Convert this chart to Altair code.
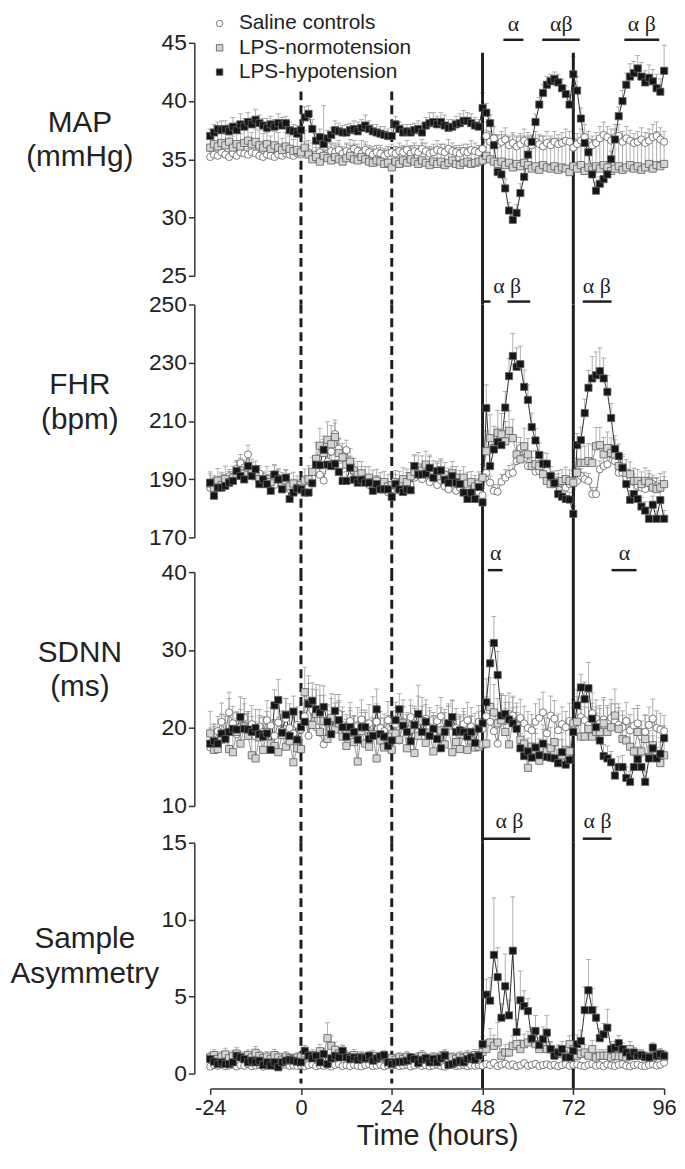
import altair as alt
import pandas as pd

HOURS = list(range(-24, 97))
SERIES = ["Saline controls", "LPS-normotension", "LPS-hypotension"]
X_TICKS = [-24, 0, 24, 48, 72, 96]
RULE_DASHED = [0, 24]
RULE_SOLID = [48, 72]

# ---------------- MAP (mmHg) ----------------
MAP_SALINE = ([35.2, 35.4, 35.3, 35.6, 35.4, 35.2, 35.5, 35.3, 35.6, 35.5, 35.4, 35.6, 35.5, 35.3, 35.2, 35.4, 35.3, 35.2, 35.4, 35.3, 35.5, 35.4, 35.3, 35.5]
              + [35.4, 35.8, 35.6, 35.2, 35.4, 35.6, 35.3, 35.5, 35.7, 35.6, 35.8, 35.5, 35.7, 35.6, 35.9, 35.7, 35.5, 35.8, 35.6, 35.4, 35.6, 35.5, 35.3, 35.5, 35.6]
              + [35.5, 35.7, 35.6, 35.8, 35.5, 35.7, 35.6, 35.9, 35.7, 35.5, 35.6, 35.8, 35.7, 35.6, 35.9, 35.7, 35.6, 35.5, 35.7, 35.6, 35.8, 35.7, 35.6]
              + [35.9, 37.0, 36.5, 36.8, 36.3, 36.5, 36.7, 36.2, 36.4, 36.1, 36.3, 36.6, 36.4, 36.2, 36.5, 36.3, 36.1, 36.4, 36.2, 36.5, 36.3, 36.4, 36.6, 36.5]
              + [36.0, 36.3, 36.6, 36.9, 36.5, 36.2, 36.4, 36.8, 37.1, 36.9, 36.6, 36.9, 37.0, 36.5, 36.8, 36.6, 36.4, 36.5, 36.7, 36.4, 36.6, 36.9, 37.0, 36.7, 36.5])
MAP_SALINE_ERR = ([0.5, 0.6, 0.5, 0.7, 0.6, 0.5, 0.6, 0.5, 0.7, 0.6, 0.5, 0.6, 0.7, 0.5, 0.6, 0.5, 0.6, 0.7, 0.5, 0.6, 0.5, 0.6, 0.5, 0.6]
                  + [0.6, 0.7, 0.6, 0.5, 0.6, 0.7, 0.5, 0.6, 0.7, 0.6, 0.8, 0.6, 0.7, 0.6, 0.7, 0.6, 0.5, 0.7, 0.6, 0.5, 0.6, 0.7, 0.5, 0.6, 0.7]
                  + [0.6, 0.7, 0.6, 0.8, 0.6, 0.7, 0.6, 0.8, 0.7, 0.6, 0.7, 0.8, 0.6, 0.7, 0.8, 0.7, 0.6, 0.7, 0.6, 0.7, 0.8, 0.7, 0.6]
                  + [0.8, 1.2, 0.9, 1.0, 0.8, 0.9, 1.0, 0.8, 0.9, 0.8, 0.9, 1.0, 0.9, 0.8, 0.9, 0.8, 0.9, 1.0, 0.8, 0.9, 0.8, 0.9, 1.0, 0.9]
                  + [0.8, 0.9, 1.0, 1.1, 0.9, 0.8, 0.9, 1.0, 1.1, 0.9, 1.0, 1.1, 1.0, 0.9, 1.0, 0.9, 0.8, 0.9, 1.0, 0.9, 1.0, 1.1, 1.2, 1.0, 0.9])
MAP_NORMO = ([36.0, 36.3, 36.1, 36.4, 36.2, 36.5, 36.0, 36.3, 36.1, 36.4, 36.6, 36.3, 36.5, 36.2, 36.0, 36.3, 35.9, 36.2, 36.0, 35.8, 36.1, 35.9, 35.7, 35.8]
             + [35.6, 36.0, 35.4, 35.0, 35.2, 34.8, 35.3, 35.1, 34.9, 35.2, 35.0, 34.8, 35.1, 35.3, 35.0, 34.9, 35.2, 35.0, 34.8, 34.7, 34.9, 34.8, 34.6, 34.7, 34.3]
             + [34.8, 34.6, 34.9, 34.7, 35.0, 34.8, 34.6, 34.9, 34.7, 34.5, 34.8, 34.6, 34.8, 34.5, 34.7, 34.9, 34.6, 34.5, 34.7, 34.8, 34.6, 34.7, 34.8]
             + [34.9, 35.3, 35.0, 34.8, 34.6, 34.8, 34.5, 34.7, 34.3, 34.6, 34.4, 34.7, 34.5, 34.2, 34.4, 34.1, 34.5, 34.3, 34.2, 34.4, 34.1, 34.3, 34.2, 33.9]
             + [34.4, 34.2, 34.5, 34.0, 34.3, 34.1, 34.4, 34.2, 34.5, 34.3, 34.0, 34.2, 34.4, 34.1, 34.3, 34.5, 34.2, 34.4, 34.1, 34.3, 34.6, 34.2, 34.5, 34.4, 34.6])
MAP_NORMO_ERR = ([1.2, 1.0, 1.3, 1.1, 1.2, 1.4, 1.0, 1.2, 1.1, 1.3, 1.2, 1.0, 1.1, 1.3, 1.2, 1.0, 1.1, 1.2, 1.3, 1.0, 1.2, 1.1, 1.0, 1.2]
                 + [1.3, 1.5, 1.2, 1.4, 1.3, 1.2, 4.3, 1.3, 1.4, 1.2, 1.3, 1.1, 1.2, 1.4, 1.3, 1.2, 1.4, 1.3, 1.2, 1.4, 1.3, 1.2, 1.3, 1.4, 1.3]
                 + [1.3, 1.4, 1.2, 1.3, 1.2, 1.4, 1.3, 1.5, 1.3, 1.4, 1.2, 1.3, 1.5, 1.4, 1.3, 1.2, 1.4, 1.5, 1.3, 1.2, 1.4, 1.3, 1.4]
                 + [2.0, 2.2, 2.4, 2.1, 2.5, 2.3, 2.6, 2.2, 2.8, 2.4, 2.6, 2.3, 2.5, 2.7, 2.4, 2.9, 2.5, 2.3, 2.6, 2.4, 2.7, 2.5, 2.4, 2.6]
                 + [2.3, 2.5, 2.2, 2.8, 2.4, 2.6, 2.3, 2.5, 2.2, 2.6, 2.9, 2.5, 2.4, 2.8, 2.5, 2.3, 2.6, 2.4, 2.7, 2.5, 2.6, 2.8, 2.9, 2.7, 2.2])
MAP_HYPO = ([37.0, 37.3, 37.6, 37.5, 37.6, 37.4, 37.8, 37.5, 38.0, 37.8, 38.2, 38.0, 38.4, 38.1, 37.9, 37.7, 38.0, 37.8, 38.1, 37.9, 38.1, 37.5, 37.4, 37.2]
            + [37.5, 38.6, 38.9, 37.6, 36.6, 36.9, 36.3, 36.8, 37.1, 37.5, 37.4, 37.3, 37.3, 37.5, 37.6, 37.4, 37.7, 37.9, 37.6, 37.4, 37.3, 37.2, 37.1, 37.0, 37.0]
            + [38.0, 37.6, 37.3, 37.4, 37.3, 37.5, 37.6, 37.3, 37.9, 38.1, 38.2, 38.0, 38.2, 37.9, 37.7, 37.8, 38.0, 38.1, 38.3, 38.3, 38.1, 37.9, 37.8]
            + [39.4, 39.0, 38.1, 36.2, 33.9, 33.7, 32.5, 30.6, 29.8, 30.4, 32.1, 33.5, 35.4, 36.5, 38.2, 39.7, 40.7, 41.4, 41.7, 41.9, 41.6, 41.1, 40.6, 39.7]
            + [42.3, 40.9, 38.5, 36.4, 35.6, 33.7, 32.3, 32.9, 33.3, 33.7, 35.0, 36.7, 38.7, 40.0, 41.4, 42.1, 42.4, 42.8, 42.1, 41.6, 42.0, 41.7, 41.1, 40.8, 42.6])
MAP_HYPO_ERR = ([0.6, 0.7, 0.6, 0.8, 0.7, 0.6, 0.8, 0.7, 0.9, 0.7, 0.8, 0.6, 0.9, 0.7, 0.6, 0.8, 0.7, 0.6, 0.8, 0.7, 0.6, 0.7, 0.6, 0.7]
                + [0.8, 0.9, 0.7, 0.8, 0.6, 0.7, 0.6, 0.7, 0.6, 0.8, 0.7, 0.6, 0.7, 0.6, 0.7, 0.8, 0.7, 0.9, 0.7, 0.6, 0.7, 0.6, 0.7, 0.6, 0.7]
                + [0.7, 0.6, 0.7, 0.6, 0.7, 0.6, 0.7, 0.8, 0.7, 0.9, 0.8, 0.7, 0.8, 0.9, 0.7, 0.6, 0.7, 0.8, 0.9, 0.7, 0.8, 0.7, 0.6]
                + [1.3, 0.8, 0.7, 0.9, 0.8, 0.7, 0.8, 0.7, 0.6, 0.7, 0.8, 0.7, 0.7, 0.6, 0.7, 0.6, 0.7, 0.7, 0.6, 0.6, 0.7, 0.8, 0.7, 0.8]
                + [1.5, 1.2, 0.9, 0.8, 0.7, 0.8, 0.7, 0.6, 0.7, 0.8, 0.7, 0.9, 0.8, 0.9, 1.0, 1.1, 1.0, 1.1, 1.2, 1.0, 1.1, 1.0, 1.2, 1.1, 2.2])

# ---------------- FHR (bpm) ----------------
FHR_SALINE = ([187.0, 189.0, 188.0, 190.0, 189.0, 191.0, 190.0, 193.5, 195.5, 194.0, 198.5, 193.0, 191.0, 192.0, 190.0, 188.5, 189.5, 188.0, 190.5, 187.5, 188.5, 186.5, 187.5, 186.0]
              + [187.5, 188.5, 187.0, 190.5, 193.0, 191.5, 189.5, 196.0, 199.5, 205.5, 200.5, 197.0, 200.0, 195.0, 192.5, 190.5, 191.5, 189.0, 188.0, 187.0, 188.5, 186.5, 187.5, 185.5, 186.5]
              + [187.5, 186.0, 188.0, 189.5, 188.0, 190.5, 192.0, 190.0, 191.5, 189.0, 190.5, 188.0, 189.5, 187.5, 186.5, 188.5, 186.0, 187.0, 185.5, 186.5, 185.0, 186.0, 185.5, 184.5]
              + [192.2, 188.8, 186.0, 185.7, 189.1, 190.5, 191.8, 192.2, 196.2, 200.7, 197.3, 194.5, 194.5, 192.6, 192.8, 192.8, 192.8, 190.0, 188.5, 189.4, 188.3, 187.1, 188.3, 189.4]
              + [189.4, 191.1, 190.0, 189.4, 184.9, 184.9, 193.4, 194.5, 195.1, 198.5, 196.2, 192.2, 192.2, 190.5, 189.4, 189.4, 187.7, 187.1, 186.6, 189.4, 188.3, 187.7, 187.1, 188.3])
FHR_SALINE_ERR = ([2.5, 2.2, 2.8, 2.4, 2.6, 2.3, 2.7, 2.9, 3.0, 2.6, 3.2, 2.8, 2.5, 2.7, 2.4, 2.6, 2.3, 2.5, 2.7, 2.4, 2.6, 2.2, 2.5, 2.3]
                  + [2.4, 2.6, 2.3, 2.8, 3.0, 2.7, 2.5, 3.2, 3.5, 3.8, 3.3, 3.0, 3.4, 2.9, 2.7, 2.5, 2.8, 2.4, 2.6, 2.3, 2.5, 2.2, 2.4, 2.3, 2.5]
                  + [2.4, 2.2, 2.6, 2.8, 2.5, 2.9, 3.1, 2.7, 2.9, 2.6, 2.8, 2.5, 2.7, 2.4, 2.3, 2.6, 2.2, 2.4, 2.1, 2.3, 2.0, 2.2, 2.1, 2.3]
                  + [2.5, 2.3, 2.2, 2.4, 2.6, 2.8, 2.9, 3.0, 3.4, 3.6, 3.2, 3.0, 2.9, 2.7, 2.8, 2.6, 2.5, 2.4, 2.3, 2.4, 2.2, 2.3, 2.4, 2.5]
                  + [2.6, 2.5, 2.4, 2.6, 2.2, 2.3, 2.9, 3.1, 3.3, 3.5, 3.2, 2.9, 2.8, 2.6, 2.5, 2.4, 2.3, 2.2, 2.4, 2.6, 2.3, 2.5, 2.4, 2.6])
FHR_NORMO = ([188.5, 187.0, 189.5, 188.0, 190.0, 189.0, 190.5, 191.5, 193.0, 192.0, 194.0, 192.5, 191.0, 190.0, 188.5, 190.0, 189.0, 191.0, 190.0, 188.0, 189.5, 187.5, 188.5, 187.0]
             + [188.0, 189.5, 190.0, 192.5, 197.0, 201.5, 199.0, 203.5, 202.0, 204.5, 199.0, 197.5, 195.0, 196.0, 193.0, 191.5, 192.0, 190.0, 190.5, 189.0, 189.5, 188.0, 189.0, 187.5, 188.0]
             + [189.0, 188.5, 190.0, 189.0, 191.0, 192.5, 194.0, 193.0, 195.0, 193.5, 192.0, 191.0, 193.0, 191.5, 190.0, 192.0, 190.5, 189.0, 190.5, 188.5, 189.0, 187.5, 188.5, 190.5]
             + [199.6, 204.1, 200.7, 205.9, 205.4, 203.0, 206.6, 204.1, 198.5, 196.8, 201.3, 198.5, 194.5, 195.1, 194.5, 191.7, 189.4, 188.3, 188.8, 188.8, 189.4, 190.0, 189.4, 188.8]
             + [192.2, 195.6, 195.6, 196.2, 195.6, 201.3, 201.7, 198.5, 200.7, 199.0, 198.5, 194.5, 194.0, 192.2, 191.7, 189.4, 189.4, 188.3, 189.4, 188.8, 187.1, 186.6, 187.1, 188.3])
FHR_NORMO_ERR = ([4.0, 3.5, 4.2, 3.8, 4.5, 3.6, 4.0, 4.8, 4.2, 3.9, 5.0, 4.4, 3.8, 4.1, 3.5, 4.3, 3.7, 4.0, 3.6, 4.2, 3.8, 4.5, 3.9, 4.1]
                 + [4.2, 4.0, 4.6, 5.0, 5.5, 6.0, 5.8, 6.2, 6.5, 5.8, 5.2, 4.8, 5.0, 4.5, 4.2, 4.6, 4.0, 4.3, 3.8, 4.1, 3.9, 4.2, 3.7, 4.0, 3.8]
                 + [4.0, 4.2, 3.9, 4.5, 4.8, 5.5, 5.2, 5.0, 4.6, 4.8, 4.3, 4.5, 4.0, 4.2, 3.8, 4.1, 3.9, 4.0, 3.7, 3.9, 3.6, 3.8, 4.0, 4.5]
                 + [7.0, 8.0, 7.5, 7.8, 7.2, 6.8, 7.0, 6.5, 6.0, 5.8, 6.2, 5.5, 5.0, 4.8, 4.5, 4.6, 4.2, 4.4, 4.0, 4.2, 3.9, 4.1, 3.8, 4.0]
                 + [5.0, 5.5, 5.8, 6.0, 6.2, 6.5, 6.0, 5.8, 5.5, 5.2, 5.0, 4.8, 4.5, 4.6, 4.2, 4.4, 4.0, 4.2, 4.5, 4.1, 4.3, 4.0, 4.8, 4.2])
FHR_HYPO = ([188.8, 184.3, 187.1, 187.1, 187.7, 188.8, 189.4, 192.8, 191.1, 189.9, 194.5, 191.1, 193.4, 188.3, 189.9, 188.3, 186.0, 191.6, 189.9, 186.5, 190.5, 183.2, 185.4, 186.8]
            + [186.5, 185.4, 185.4, 188.6, 195.0, 194.8, 200.1, 195.0, 194.5, 195.3, 192.5, 189.4, 189.4, 193.9, 189.8, 188.8, 189.8, 188.8, 188.8, 186.0, 188.3, 186.5, 186.5, 186.5, 183.9]
            + [188.3, 186.5, 185.6, 186.5, 186.2, 194.5, 191.6, 191.6, 191.9, 193.9, 190.5, 192.8, 193.0, 189.8, 188.8, 191.1, 188.8, 188.3, 185.4, 183.2, 185.4, 183.2, 187.3, 182.0]
            + [214.4, 194.5, 200.2, 202.8, 201.7, 214.6, 225.4, 232.3, 228.6, 229.5, 221.7, 217.2, 207.9, 203.3, 198.3, 195.3, 195.3, 191.1, 188.6, 184.9, 184.0, 183.2, 183.0, 178.1]
            + [201.7, 203.4, 212.7, 221.4, 224.6, 225.7, 227.1, 224.6, 220.0, 211.0, 200.4, 197.9, 193.9, 188.3, 182.9, 184.9, 183.2, 180.6, 179.2, 176.4, 181.2, 176.4, 182.8, 176.4])
FHR_HYPO_ERR = ([3.0, 2.5, 3.5, 2.8, 3.2, 2.6, 3.0, 2.9, 3.4, 2.7, 3.8, 3.1, 2.8, 3.0, 2.6, 3.3, 2.5, 3.0, 2.8, 3.2, 2.6, 3.0, 2.7, 2.9]
                + [3.1, 2.8, 3.0, 3.4, 3.2, 3.6, 3.5, 3.3, 3.8, 3.1, 2.9, 3.0, 3.2, 2.8, 3.0, 2.7, 3.1, 2.9, 2.6, 2.8, 3.0, 2.7, 2.9, 2.6, 3.0]
                + [3.2, 2.8, 3.0, 2.7, 3.1, 3.9, 3.4, 3.2, 3.6, 3.8, 3.1, 3.3, 3.5, 3.0, 2.8, 3.2, 2.9, 3.0, 2.7, 2.6, 2.8, 2.5, 2.9, 2.6]
                + [8.0, 4.5, 5.0, 4.8, 4.5, 5.5, 6.0, 7.8, 6.5, 6.2, 5.8, 5.2, 4.8, 4.0, 4.2, 3.8, 3.5, 3.2, 3.0, 2.8, 2.6, 2.5, 2.4, 2.6]
                + [4.0, 4.5, 4.8, 6.0, 7.5, 8.0, 8.0, 7.0, 5.5, 5.0, 4.5, 4.2, 3.8, 3.5, 3.2, 3.0, 2.8, 3.2, 3.0, 2.8, 3.0, 2.7, 3.1, 2.8])

# ---------------- SDNN (ms) ----------------
SDNN_SALINE = ([17.5, 18.2, 19.6, 20.8, 19.4, 22.0, 20.6, 19.2, 20.1, 21.3, 19.8, 20.5, 18.9, 20.2, 19.5, 21.0, 20.3, 19.0, 20.7, 19.6, 21.2, 20.0, 19.3, 20.4]
               + [19.8, 21.5, 19.0, 22.3, 20.1, 19.4, 17.9, 20.6, 21.2, 20.0, 21.8, 20.4, 19.7, 20.9, 19.5, 20.3, 21.1, 19.8, 20.6, 19.2, 20.8, 20.0, 19.6, 21.0]
               + [19.3, 20.5, 18.4, 20.8, 19.7, 21.4, 20.2, 19.5, 20.7, 21.2, 20.1, 19.4, 20.9, 21.5, 19.8, 20.6, 21.3, 20.0, 19.2, 20.5, 21.0, 20.2, 19.7, 20.8, 19.9]
               + [21.5, 20.8, 19.6, 18.0, 21.6, 20.9, 21.8, 21.6, 20.4, 21.3, 20.6, 20.0, 19.7, 20.8, 21.3, 22.0, 19.3, 21.6, 21.2, 19.7, 20.5, 20.1, 20.9, 20.4]
               + [20.8, 21.4, 21.0, 20.4, 21.9, 21.2, 20.6, 21.1, 20.7, 21.3, 20.8, 20.4, 20.1, 20.9, 19.7, 20.3, 20.6, 18.9, 19.5, 20.4, 21.2, 20.0, 19.8, 19.6])
SDNN_SALINE_ERR = ([2.0, 2.3, 1.9, 2.4, 2.1, 2.6, 2.2, 2.0, 2.3, 2.5, 2.1, 2.4, 1.9, 2.2, 2.0, 2.5, 2.3, 2.1, 2.4, 2.0, 2.6, 2.2, 2.1, 2.3]
                   + [2.2, 2.5, 2.0, 2.7, 2.3, 2.1, 1.9, 2.4, 2.6, 2.2, 2.5, 2.3, 2.0, 2.4, 2.1, 2.3, 2.5, 2.2, 2.4, 2.0, 2.3, 2.1, 2.2, 2.4, 2.3]
                   + [2.1, 2.4, 2.0, 2.3, 2.2, 2.6, 2.3, 2.1, 2.4, 2.5, 2.2, 2.0, 2.4, 2.6, 2.2, 2.3, 2.5, 2.1, 2.0, 2.3, 2.4, 2.2, 2.1, 2.3]
                   + [2.5, 2.4, 2.2, 2.0, 2.6, 2.4, 2.7, 2.5, 2.3, 2.4, 2.2, 2.1, 2.0, 2.3, 2.4, 2.6, 2.0, 2.5, 2.3, 2.1, 2.2, 2.0, 2.3, 2.2]
                   + [2.3, 2.5, 2.4, 2.2, 2.6, 2.4, 2.3, 2.5, 2.2, 2.4, 2.3, 2.2, 2.1, 2.4, 2.0, 2.2, 2.3, 2.0, 2.1, 2.3, 2.5, 2.2, 2.1, 2.0])
SDNN_NORMO = ([19.3, 17.2, 17.3, 18.5, 19.0, 17.3, 16.9, 19.5, 18.0, 20.2, 19.0, 16.5, 16.1, 18.8, 17.2, 19.5, 18.0, 17.7, 16.9, 19.1, 17.6, 18.3, 15.6, 17.4]
              + [17.3, 24.6, 23.2, 20.4, 21.8, 19.5, 20.9, 18.6, 21.3, 19.8, 20.6, 18.9, 17.7, 19.4, 18.2, 15.7, 19.6, 18.0, 17.6, 19.2, 16.1, 18.4, 17.5, 18.9]
              + [17.2, 19.3, 18.5, 20.6, 17.4, 19.8, 16.8, 19.0, 20.9, 18.1, 19.4, 17.0, 18.6, 19.7, 17.9, 20.3, 16.9, 18.2, 17.3, 19.1, 17.2, 18.4, 17.5, 17.6, 17.9]
              + [18.0, 22.7, 22.0, 20.6, 21.0, 19.5, 17.9, 20.8, 20.3, 18.5, 18.0, 14.9, 17.6, 17.2, 15.8, 17.4, 17.0, 17.4, 18.2, 15.5, 16.5, 17.2, 17.0]
              + [20.6, 20.8, 18.9, 18.9, 19.9, 18.9, 19.5, 19.5, 20.6, 19.5, 20.1, 21.6, 19.9, 18.6, 18.4, 17.6, 17.0, 19.5, 17.0, 18.6, 16.3, 17.8, 16.5, 15.5, 16.5])
SDNN_NORMO_ERR = ([2.8, 3.0, 2.5, 3.2, 2.7, 6.5, 3.0, 2.6, 3.4, 2.9, 3.1, 2.7, 3.0, 2.8, 3.3, 2.6, 3.0, 2.9, 4.5, 3.1, 2.7, 4.8, 3.0, 2.8]
                  + [3.0, 3.2, 3.5, 3.0, 3.8, 6.0, 3.3, 3.6, 3.1, 3.4, 2.9, 3.2, 3.0, 2.8, 3.3, 3.0, 2.7, 3.1, 2.9, 4.8, 3.2, 2.8, 3.0, 2.7, 3.1]
                  + [2.9, 3.2, 3.0, 2.8, 3.1, 2.9, 6.5, 3.0, 3.2, 2.8, 4.5, 3.0, 2.9, 3.1, 2.8, 3.0, 2.9, 4.2, 3.0, 2.8, 3.1, 2.9, 3.0, 3.2]
                  + [3.5, 3.8, 3.6, 3.2, 3.4, 3.0, 3.2, 3.1, 2.9, 3.0, 2.8, 3.0, 2.9, 2.7, 2.8, 3.0, 2.9, 2.7, 2.8, 3.0, 2.9, 2.7, 2.8, 3.0]
                  + [3.2, 3.5, 3.8, 3.6, 3.4, 3.2, 3.0, 3.3, 3.1, 3.0, 3.4, 3.2, 3.0, 2.9, 3.1, 2.8, 3.0, 2.9, 3.1, 3.4, 3.0, 3.2, 3.3, 3.0])
SDNN_HYPO = ([18.0, 18.3, 18.0, 19.3, 18.6, 19.5, 19.9, 19.8, 21.4, 19.9, 19.8, 19.5, 20.0, 19.2, 18.9, 19.3, 17.2, 22.9, 23.6, 19.4, 21.7, 19.0, 22.1, 18.5]
             + [20.1, 20.8, 23.1, 23.5, 22.4, 22.0, 22.7, 20.8, 19.2, 22.2, 21.0, 20.1, 18.9, 20.1, 19.5, 18.5, 20.1, 20.1, 18.6, 19.0, 22.4, 19.2, 18.9, 17.7]
             + [18.4, 21.0, 22.4, 20.3, 19.5, 18.3, 20.4, 21.8, 19.5, 20.8, 19.0, 19.9, 18.6, 17.4, 19.5, 20.6, 21.4, 19.5, 19.7, 19.5, 18.9, 19.5, 18.1, 19.9, 20.6]
             + [23.3, 28.3, 30.9, 26.8, 21.6, 21.8, 21.1, 20.6, 19.9, 17.4, 16.4, 17.0, 16.2, 17.5, 16.5, 18.0, 16.3, 16.2, 16.1, 15.5, 16.9, 15.3, 15.9, 19.5]
             + [22.9, 25.2, 23.7, 25.1, 21.2, 20.1, 18.4, 16.4, 16.1, 15.6, 13.9, 15.0, 15.0, 13.6, 13.1, 15.0, 16.0, 15.0, 13.1, 16.1, 17.4, 16.1, 16.7, 18.7])
SDNN_HYPO_ERR = ([2.0, 2.2, 1.8, 2.5, 2.1, 2.4, 2.0, 2.2, 2.6, 1.9, 2.3, 2.0, 2.4, 2.1, 2.5, 1.8, 2.2, 2.0, 2.6, 2.3, 2.1, 2.4, 2.0, 2.2]
                 + [2.1, 2.4, 2.6, 2.3, 2.5, 2.2, 2.7, 2.0, 2.4, 2.1, 2.3, 2.0, 2.2, 2.5, 2.1, 2.3, 1.9, 2.2, 2.0, 2.4, 2.6, 2.1, 2.3, 2.0, 2.2]
                 + [2.3, 2.0, 2.4, 2.2, 2.5, 2.1, 2.3, 2.0, 2.2, 2.4, 2.1, 2.3, 2.0, 2.5, 2.2, 2.1, 2.3, 2.0, 2.2, 2.4, 2.1, 2.0, 2.2, 2.3]
                 + [3.0, 2.8, 3.4, 3.0, 2.6, 2.4, 2.2, 2.0, 2.1, 1.9, 1.8, 1.7, 1.9, 1.8, 1.6, 1.8, 1.7, 1.6, 1.5, 1.7, 1.6, 1.5, 1.6, 1.8]
                 + [2.0, 1.7, 2.2, 3.3, 2.0, 1.8, 1.6, 1.5, 1.6, 1.4, 1.5, 1.3, 1.5, 1.4, 1.3, 1.5, 1.6, 1.4, 1.3, 1.5, 1.6, 1.4, 1.5, 1.6])

# ---------------- Sample asymmetry ----------------
SA_SALINE = ([0.45, 0.55, 0.50, 0.60, 0.48, 0.52, 0.58, 0.46, 0.55, 0.50, 0.62, 0.48, 0.53, 0.57, 0.45, 0.52, 0.60, 0.50, 0.47, 0.55, 0.58, 0.49, 0.53, 0.50]
             + [0.52, 0.48, 0.55, 0.60, 0.47, 0.53, 0.50, 0.58, 0.45, 0.56, 0.62, 0.49, 0.54, 0.48, 0.57, 0.51, 0.46, 0.55, 0.60, 0.48, 0.52, 0.56, 0.47, 0.53, 0.50]
             + [0.55, 0.48, 0.52, 0.58, 0.46, 0.53, 0.60, 0.49, 0.55, 0.47, 0.52, 0.57, 0.50, 0.45, 0.54, 0.59, 0.48, 0.52, 0.56, 0.47, 0.53, 0.50, 0.55, 0.52]
             + [0.62, 0.55, 0.70, 0.48, 0.58, 0.65, 0.52, 0.60, 0.47, 0.55, 0.68, 0.50, 0.57, 0.63, 0.49, 0.56, 0.61, 0.52, 0.58, 0.47, 0.55, 0.62, 0.50, 0.57]
             + [0.60, 0.52, 0.48, 0.58, 0.63, 0.50, 0.55, 0.47, 0.60, 0.53, 0.49, 0.57, 0.62, 0.51, 0.46, 0.55, 0.59, 0.50, 0.48, 0.56, 0.61, 0.52, 0.58, 0.72])
SA_SALINE_ERR = ([0.12, 0.15, 0.10, 0.14, 0.12, 0.16, 0.11, 0.13, 0.15, 0.12, 0.14, 0.10, 0.13, 0.15, 0.11, 0.12, 0.14, 0.13, 0.10, 0.12, 0.15, 0.11, 0.13, 0.12]
                 + [0.13, 0.11, 0.14, 0.16, 0.12, 0.13, 0.10, 0.15, 0.12, 0.14, 0.16, 0.11, 0.13, 0.12, 0.15, 0.13, 0.11, 0.14, 0.16, 0.12, 0.13, 0.15, 0.11, 0.13, 0.12]
                 + [0.14, 0.12, 0.13, 0.15, 0.11, 0.13, 0.16, 0.12, 0.14, 0.11, 0.13, 0.15, 0.12, 0.10, 0.14, 0.16, 0.12, 0.13, 0.15, 0.11, 0.13, 0.12, 0.14, 0.13]
                 + [0.18, 0.15, 0.20, 0.12, 0.16, 0.19, 0.14, 0.17, 0.12, 0.15, 0.20, 0.13, 0.16, 0.18, 0.13, 0.15, 0.17, 0.14, 0.16, 0.12, 0.15, 0.18, 0.13, 0.16]
                 + [0.17, 0.14, 0.12, 0.16, 0.18, 0.13, 0.15, 0.12, 0.17, 0.14, 0.13, 0.16, 0.18, 0.14, 0.12, 0.15, 0.17, 0.13, 0.12, 0.15, 0.17, 0.14, 0.16, 0.20])
SA_NORMO = ([1.05, 1.20, 0.95, 1.10, 1.25, 1.00, 1.15, 1.30, 1.10, 0.95, 1.20, 1.05, 1.35, 1.15, 1.00, 1.10, 0.95, 1.20, 1.05, 0.90, 1.10, 1.00, 0.95, 1.05]
            + [1.10, 1.30, 1.05, 1.20, 1.00, 1.45, 1.25, 2.30, 1.80, 1.55, 1.30, 1.40, 1.15, 1.05, 1.20, 1.00, 1.10, 0.95, 1.05, 1.15, 0.95, 1.00, 1.10, 0.90]
            + [1.00, 0.90, 1.05, 0.95, 1.10, 1.00, 0.95, 1.05, 1.15, 1.00, 0.90, 1.05, 0.95, 1.10, 1.20, 1.00, 1.05, 0.95, 1.10, 1.00, 1.15, 1.05, 1.20, 1.10, 1.40]
            + [1.59, 2.02, 1.80, 2.02, 1.16, 1.37, 1.37, 1.80, 1.91, 1.59, 1.91, 2.02, 2.23, 1.91, 1.59, 1.91, 1.59, 1.59, 1.27, 1.37, 1.27, 1.16, 1.91, 1.59]
            + [1.16, 1.27, 1.37, 1.16, 1.59, 1.05, 1.16, 1.16, 1.16, 1.05, 1.16, 1.12, 1.12, 1.05, 1.59, 1.27, 1.16, 1.16, 1.05, 1.05, 1.05, 1.16, 1.20, 1.10])
SA_NORMO_ERR = ([0.30, 0.35, 0.25, 0.32, 0.40, 0.28, 0.33, 0.38, 0.30, 0.26, 0.34, 0.29, 0.42, 0.31, 0.27, 0.33, 0.25, 0.36, 0.30, 0.24, 0.32, 0.28, 0.26, 0.30]
                + [0.32, 0.40, 0.30, 0.35, 0.28, 0.45, 0.38, 1.00, 0.65, 0.50, 0.40, 0.45, 0.33, 0.30, 0.36, 0.28, 0.32, 0.26, 0.30, 0.34, 0.27, 0.29, 0.32, 0.25]
                + [0.28, 0.25, 0.30, 0.27, 0.32, 0.28, 0.26, 0.30, 0.34, 0.29, 0.25, 0.31, 0.27, 0.33, 0.36, 0.28, 0.30, 0.26, 0.32, 0.28, 0.34, 0.30, 0.36, 0.32]
                + [0.45, 0.60, 0.90, 0.70, 1.30, 0.45, 0.50, 0.55, 0.65, 0.70, 0.60, 0.65, 0.70, 0.75, 0.60, 0.50, 0.60, 0.50, 0.45, 0.40, 0.42, 0.38, 0.35, 0.55, 0.45]
                + [0.40, 0.45, 0.50, 0.42, 0.55, 0.35, 0.40, 0.38, 0.42, 0.35, 0.38, 0.36, 0.40, 0.34, 0.50, 0.42, 0.38, 0.40, 0.35, 0.33, 0.36, 0.40, 0.42, 0.38])
SA_HYPO = ([0.94, 0.77, 0.62, 0.73, 0.62, 0.62, 0.73, 1.16, 1.05, 0.94, 0.73, 0.84, 0.73, 0.84, 0.56, 0.73, 0.52, 0.73, 0.41, 0.73, 0.84, 0.90, 0.84, 0.77]
           + [0.73, 1.48, 1.16, 0.99, 1.16, 0.73, 1.27, 0.62, 0.99, 1.16, 1.05, 1.48, 1.05, 0.94, 1.05, 0.90, 1.05, 0.99, 1.16, 0.84, 0.99, 1.12, 1.20, 0.73]
           + [0.62, 0.73, 0.77, 0.77, 0.84, 1.05, 0.94, 0.69, 0.90, 0.99, 0.73, 0.94, 0.73, 0.99, 1.16, 0.56, 0.62, 0.73, 0.84, 0.73, 0.94, 1.05, 0.90, 1.16, 1.91]
           + [5.13, 4.74, 7.71, 6.27, 3.63, 5.67, 3.78, 7.98, 2.70, 4.76, 4.38, 4.06, 2.27, 2.77, 1.85, 2.23, 2.66, 1.59, 1.16, 1.37, 1.59, 1.05, 1.05, 1.48]
           + [1.91, 2.12, 4.12, 5.41, 4.12, 3.63, 2.30, 2.55, 2.98, 1.59, 1.69, 1.98, 1.59, 1.37, 1.12, 1.37, 1.16, 1.20, 1.09, 1.05, 1.69, 1.16, 1.27, 1.16])
SA_HYPO_ERR = ([0.25, 0.20, 0.22, 0.18, 0.20, 0.24, 0.22, 0.30, 0.28, 0.25, 0.22, 0.20, 0.24, 0.21, 0.18, 0.22, 0.17, 0.20, 0.16, 0.22, 0.24, 0.25, 0.22, 0.20]
               + [0.22, 0.35, 0.30, 0.28, 0.30, 0.24, 0.32, 0.22, 0.28, 0.30, 0.27, 0.35, 0.28, 0.26, 0.27, 0.25, 0.28, 0.26, 0.30, 0.24, 0.26, 0.28, 0.30, 0.22]
               + [0.20, 0.22, 0.23, 0.22, 0.24, 0.27, 0.25, 0.21, 0.24, 0.26, 0.22, 0.25, 0.21, 0.26, 0.30, 0.20, 0.21, 0.22, 0.24, 0.22, 0.25, 0.27, 0.24, 0.30]
               + [0.50, 1.00, 1.50, 3.70, 1.90, 0.90, 2.10, 1.00, 3.50, 0.80, 1.90, 1.00, 0.80, 0.60, 1.00, 0.50, 0.80, 1.10, 0.50, 0.40, 0.50, 0.50, 0.40, 0.30, 0.40]
               + [0.60, 0.70, 1.50, 2.00, 1.40, 0.70, 0.60, 0.70, 1.20, 0.50, 0.40, 0.50, 0.40, 0.40, 0.30, 0.30, 0.40, 0.30, 0.30, 0.30, 0.30, 0.30, 0.30, 0.30])

# ---------------- significance marks ----------------
MAP_BAR_X1, MAP_BAR_X2, MAP_BAR_Y = [53.5, 63.8, 85.5], [58.8, 73.7, 94.7], 45.26
MAP_SIG_LABELS, MAP_SIG_X, MAP_SIG_Y = ["α", "αβ", "α β"], [56.2, 68.8, 90.1], 46.0
FHR_BAR_X1, FHR_BAR_X2, FHR_BAR_Y = [48.0, 54.6, 74.5], [50.1, 60.6, 82.1], 251.0
FHR_SIG_LABELS, FHR_SIG_X, FHR_SIG_Y = ["α β", "α β"], [54.5, 78.2], 254.1
SDNN_BAR_X1, SDNN_BAR_X2, SDNN_BAR_Y = [49.4, 82.1], [53.3, 88.7], 40.25
SDNN_SIG_LABELS, SDNN_SIG_X, SDNN_SIG_Y = ["α", "α"], [51.5, 85.5], 41.5
SA_BAR_X1, SA_BAR_X2, SA_BAR_Y = [48.3, 74.5], [60.6, 82.1], 15.26
SA_SIG_LABELS, SA_SIG_X, SA_SIG_Y = ["α β", "α β"], [55.1, 78.4], 15.97

FONT = "Liberation Sans"
GREEK = "Liberation Serif"
INK = "#1e1e1e"
ERR_COLOR = "#9c9c9c"
LINE_COLORS = ["#6a6a6a", "#8e8e8e", "#1a1a1a"]
PLOT_W = 458
SPACING = 29
X_OFFSET = 15


def long_df(vals, errs):
    rows = []
    for s, v, e in zip(SERIES, vals, errs):
        assert len(v) == len(HOURS), (s, "values", len(v))
        assert len(e) == len(HOURS), (s, "errors", len(e))
        for h, y, er in zip(HOURS, v, e):
            rows.append({"hour": h, "value": y, "top": round(y + er, 3), "series": s})
    return pd.DataFrame(rows)


# one shared legend (identical in every panel), placed over the top of the MAP panel
LEGEND = alt.Legend(title=None, orient="none", legendX=-1, legendY=-30, padding=0,
                    labelFont=FONT, labelFontSize=21, labelColor="#222222", labelLimit=400,
                    symbolSize=42, symbolStrokeColor="#555555", symbolStrokeWidth=0.8,
                    rowPadding=2.5, labelOffset=9)


def panel(vals, errs, title, domain, ticks, axis_h, view_h, title_x, title_y,
          dash_range, solid_range, bars, labels, show_x):
    df = long_df(vals, errs)
    xscale = alt.Scale(domain=[-24, 96], nice=False, zero=False)
    yscale = alt.Scale(domain=domain, nice=False, zero=False, range=[axis_h, 0])
    if show_x:
        xaxis = alt.Axis(values=X_TICKS, labelExpr="'' + datum.value", title="Time (hours)",
                         offset=X_OFFSET + view_h - axis_h, labelFlush=False, labelPadding=3, labelFontSize=22,
                         titleFontSize=29, titlePadding=4)
    else:
        xaxis = None
    # multi-line titles: titleY anchors the first line, the second follows titleLineHeight below
    yaxis = alt.Axis(values=ticks, title=title, titleAngle=0, titleAlign="center",
                     titleBaseline="middle", titleX=title_x, titleY=title_y,
                     titleFontSize=30, titleLineHeight=35, offset=16, labelPadding=2)

    def X(f):
        return alt.X(f, scale=xscale, axis=xaxis)

    def Y(f):
        return alt.Y(f, scale=yscale, axis=yaxis)

    base = alt.Chart(df)
    err = base.mark_rule(color=ERR_COLOR, strokeWidth=0.8).encode(x=X("hour:Q"), y=Y("value:Q"), y2="top:Q")
    cap = base.mark_tick(orient="horizontal", color=ERR_COLOR, thickness=0.8, size=5, opacity=1).encode(
        x=X("hour:Q"), y=Y("top:Q"))
    line_layers = [
        base.transform_filter(alt.datum.series == s).mark_line(color=c, strokeWidth=0.9).encode(
            x=X("hour:Q"), y=Y("value:Q"))
        for s, c in zip(SERIES, LINE_COLORS)
    ]
    points = base.mark_point(filled=True, opacity=1, size=52, strokeWidth=0.8, stroke="#5c5c5c").encode(
        x=X("hour:Q"), y=Y("value:Q"),
        shape=alt.Shape("series:N", scale=alt.Scale(domain=SERIES, range=["circle", "square", "square"]), legend=LEGEND),
        color=alt.Color("series:N", scale=alt.Scale(domain=SERIES, range=["#ffffff", "#d3d3d3", "#161616"]), legend=LEGEND),
    )
    dashed = alt.Chart(pd.DataFrame({"hour": RULE_DASHED})).mark_rule(
        strokeDash=[9, 5], strokeWidth=3, color=INK).encode(
        x=X("hour:Q"), y=alt.value(dash_range[0]), y2=alt.value(dash_range[1]))
    solid = alt.Chart(pd.DataFrame({"hour": RULE_SOLID})).mark_rule(
        strokeWidth=3, color=INK).encode(
        x=X("hour:Q"), y=alt.value(solid_range[0]), y2=alt.value(solid_range[1]))
    bx1, bx2, by = bars
    bar_df = pd.DataFrame({"x1": bx1, "x2": bx2, "y": [by] * len(bx1)})
    sig_bars = alt.Chart(bar_df).mark_rule(strokeWidth=2.5, color=INK).encode(
        x=X("x1:Q"), x2="x2:Q", y=Y("y:Q"))
    lt, lx, ly = labels
    lab_df = pd.DataFrame({"label": lt, "xc": lx, "y": [ly] * len(lt)})
    sig_text = alt.Chart(lab_df).mark_text(font=GREEK, fontSize=22, baseline="alphabetic",
                                           align="center", color=INK).encode(
        x=X("xc:Q"), y=Y("y:Q"), text="label:N")
    return alt.layer(err, cap, dashed, solid, *line_layers, points, sig_bars, sig_text).properties(
        width=PLOT_W, height=view_h)


# view heights chosen so that one uniform spacing reproduces the reference panel tops
MAP_VIEW, FHR_VIEW, SDNN_VIEW, SA_VIEW = 235, 241, 244, 233

map_p = panel([MAP_SALINE, MAP_NORMO, MAP_HYPO], [MAP_SALINE_ERR, MAP_NORMO_ERR, MAP_HYPO_ERR],
              ["MAP", "(mmHg)"], [25, 45], [25, 30, 35, 40, 45], 235, MAP_VIEW, -116, 80,
              (49, MAP_VIEW + SPACING), (10, MAP_VIEW + SPACING),
              (MAP_BAR_X1, MAP_BAR_X2, MAP_BAR_Y), (MAP_SIG_LABELS, MAP_SIG_X, MAP_SIG_Y), False)
fhr_p = panel([FHR_SALINE, FHR_NORMO, FHR_HYPO], [FHR_SALINE_ERR, FHR_NORMO_ERR, FHR_HYPO_ERR],
              ["FHR", "(bpm)"], [170, 250], [170, 190, 210, 230, 250], 235, FHR_VIEW, -116, 81,
              (0, FHR_VIEW + SPACING), (0, FHR_VIEW + SPACING),
              (FHR_BAR_X1, FHR_BAR_X2, FHR_BAR_Y), (FHR_SIG_LABELS, FHR_SIG_X, FHR_SIG_Y), False)
sdnn_p = panel([SDNN_SALINE, SDNN_NORMO, SDNN_HYPO], [SDNN_SALINE_ERR, SDNN_NORMO_ERR, SDNN_HYPO_ERR],
               ["SDNN", "(ms)"], [10, 40], [10, 20, 30, 40], 236, SDNN_VIEW, -116, 81,
               (0, SDNN_VIEW + SPACING), (0, SDNN_VIEW + SPACING),
               (SDNN_BAR_X1, SDNN_BAR_X2, SDNN_BAR_Y), (SDNN_SIG_LABELS, SDNN_SIG_X, SDNN_SIG_Y), False)
sa_p = panel([SA_SALINE, SA_NORMO, SA_HYPO], [SA_SALINE_ERR, SA_NORMO_ERR, SA_HYPO_ERR],
             ["Sample", "Asymmetry"], [0, 15], [0, 5, 10, 15], 233, SA_VIEW, -111, 97,
             (0, SA_VIEW + X_OFFSET - 5), (0, SA_VIEW + X_OFFSET),
             (SA_BAR_X1, SA_BAR_X2, SA_BAR_Y), (SA_SIG_LABELS, SA_SIG_X, SA_SIG_Y), True)

chart = alt.vconcat(map_p, fhr_p, sdnn_p, sa_p, spacing=SPACING, bounds="flush").properties(
    padding={"left": 2, "top": 0, "right": 0, "bottom": 0},
    background="white",
).configure_view(stroke=None).configure_axis(
    domainColor="#333333", domainWidth=1.5, tickColor="#333333", tickWidth=1.5, tickSize=6,
    labelFont=FONT, labelFontSize=23, labelColor="#222222", grid=False,
    titleFont=FONT, titleFontWeight="normal", titleColor="#222222",
)

chart.save("out.html", embed_options={"renderer": "svg", "actions": False})
